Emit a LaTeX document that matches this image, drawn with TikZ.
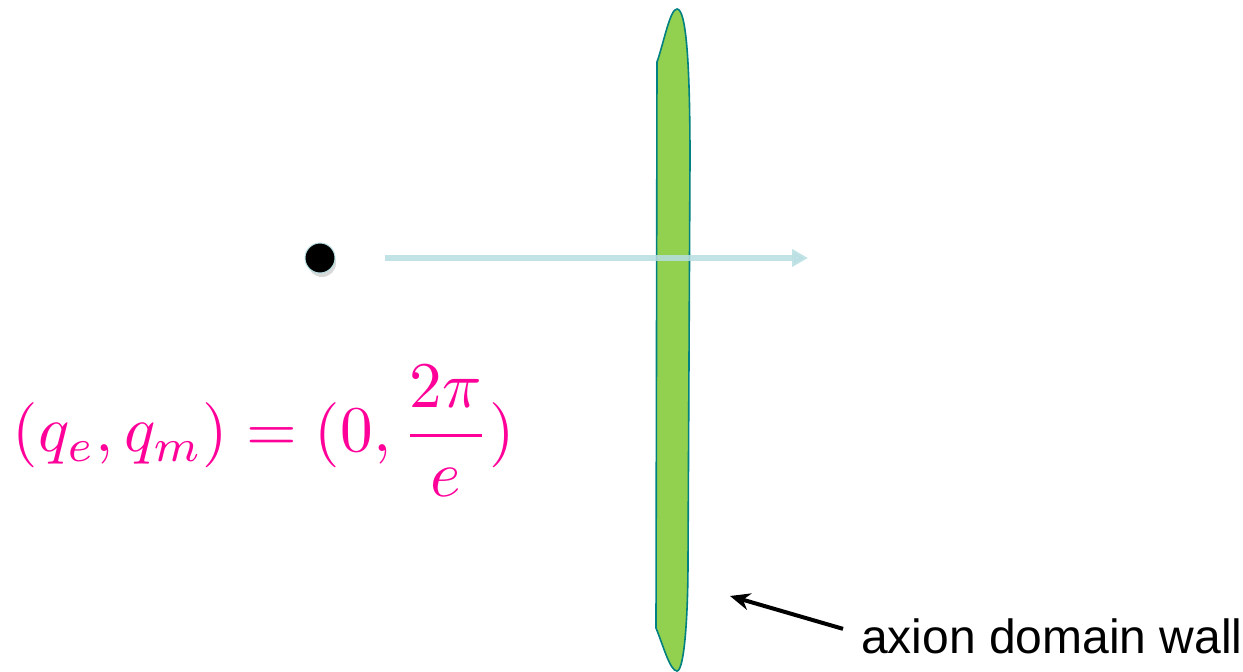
\documentclass[tikz,border=0pt]{standalone}
\usepackage{graphicx}
\usepackage{fontspec}
\usetikzlibrary{arrows.meta}
\newfontfamily\labelfont{Liberation Sans}
\definecolor{wallgreen}{RGB}{146,208,80}
\definecolor{wallrim}{RGB}{0,128,128}
\definecolor{beam}{RGB}{183,222,226}
\definecolor{qpink}{RGB}{255,0,153}
\tikzset{
  charge/.style={circle, fill=black, draw=beam, line width=1pt, minimum size=30pt, inner sep=0pt},
  beamline/.style={beam, line width=6pt, -{Triangle[length=16pt, width=17pt]}},
  pointer/.style={line width=4pt, -{Stealth[length=20pt, width=17pt]}}
}
\begin{document}
\begin{tikzpicture}[x=1pt, y=-1pt]
		\useasboundingbox (0,0) rectangle (1243,672);
		% Tuong axion
		\draw[wallrim, fill=wallgreen, line width=1.6pt]
		  (657,62) .. controls (664,42) and (670,9) .. (677,9)
		  .. controls (686,9) and (690,60) .. (690,160)
		  -- (688,560) .. controls (688,620) and (684,671) .. (677,671)
		  .. controls (670,671) and (663,645) .. (656,628) -- cycle;
		\coordinate (wallpt) at (730,596);
		
		% Hat tich dien va duong di
		\fill[black!15] (322,263) circle (14pt);
		\node[charge] (q) at (320,258) {};
		\coordinate (beamend) at (808,258);
		\draw[beamline, opacity=0.85] (385,258) -- (beamend);
		
		% Cong thuc
		\node[qpink, inner sep=0pt] (charges) at (264,431)
		  {\resizebox{502pt}{!}{$\displaystyle (q_e, q_m) = (0, \frac{2\pi}{e})$}};
		
		% Nhan
		\node[anchor=base west, inner sep=0pt, font=\labelfont\fontsize{48}{56}\selectfont] (wall) at (861,653) {axion domain wall};
		\draw[pointer] ([xshift=-18pt, yshift=7pt]wall.west) -- (wallpt);
\end{tikzpicture}
\end{document}
